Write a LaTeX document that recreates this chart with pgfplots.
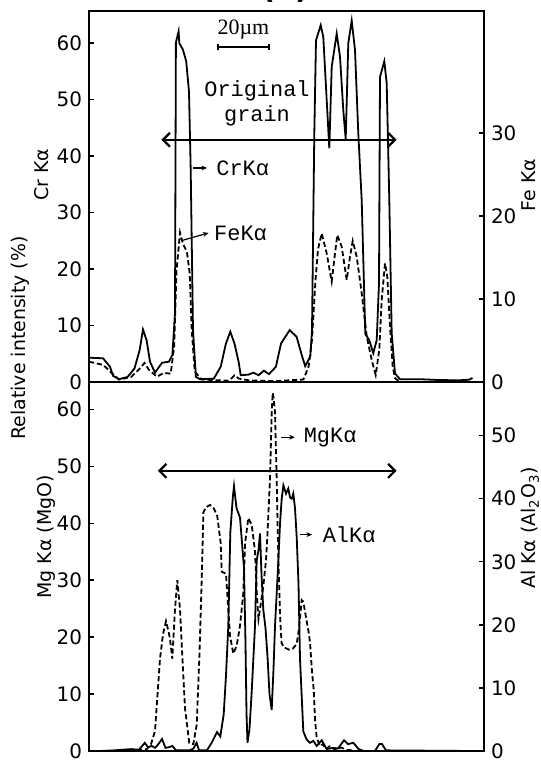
\documentclass[border=0pt]{standalone}
\usepackage{fontspec}
\setmainfont{DejaVu Sans}
\newfontfamily\annfont{Liberation Mono}
\newfontfamily\serfont{Liberation Serif}
\usepackage{pgfplots}
\usepackage{pgfplotstable}
\pgfplotsset{compat=1.18}
\usetikzlibrary{arrows.meta}

% position along the scan (arbitrary units, 53 units = 20 um)
\pgfplotstableread{
x y
0 4.3
14 4.2
21 2.7
24 1.1
30 0.5
38.6 0.9
45.5 2.4
50.7 5.7
54 9.3
57.6 7.4
61 3.6
66 1.65
73 3.4
80 3.6
83.4 4.8
86 12.2
86.9 60.1
89.6 62.1
90.3 60.0
93.8 58.9
97.2 56.8
100 51.4
101.7 37.6
104 9.2
106.9 0.9
111 0.5
124.8 0.6
131.7 2.7
136.9 6.8
141.3 8.9
145.5 6.8
149.6 3.6
151.7 1.2
159.3 1.3
164.4 1.65
169.6 1.2
174.8 2.0
180 1.4
186.9 2.7
192 6.8
200.7 9.2
207.6 8.0
212.7 4.8
216.2 2.8
221.3 4.5
223 9.2
225.3 44
227 60.5
231.7 63.2
234.3 61.1
237.7 49.9
240.3 41.4
242.7 55.8
247.7 61.7
251 57.6
254.3 48.1
256.7 43
259.3 60
262.7 64
266 58.8
269.3 44
272.7 32.2
276.3 8.5
280.3 7.4
284.3 5.1
287.7 7.4
290 17.5
291 54
295.3 56.8
297.7 52.9
300.3 32.2
302.7 8.6
306 1.5
311 0.5
330 0.5
350 0.35
370 0.3
380 0.4
383.4 0.7
}\crdata

\pgfplotstableread{
x y
0 2.45
14.4 2.05
21.3 1.24
30 0.3
42 0.6
50.7 1.6
55.5 2.3
60 1.45
67.9 0.64
74.8 1.1
81.7 1.0
85.1 4.25
87.6 13.5
91 18.0
93.8 16.7
97.9 15.7
100.7 13.1
102.7 6.3
105.8 1.24
112.7 0.3
140 0.15
145.5 0.8
150 0.4
160 0.2
185 0.1
214.4 0.3
219.6 1.85
223 5.1
226.5 12.3
229 16.0
232.7 17.9
237.7 15.5
242.7 12.1
246 15.5
248.3 17.7
252.7 16.3
257.7 12.3
261 15.1
263.7 17.0
267.7 15.1
272.7 10.7
277.7 5.5
282.7 2.65
286.7 0.84
290.3 3.9
292.7 9.9
296 14.3
298.3 12.7
301 6.7
303.7 1.85
306 0.45
310 0.1
}\fedata

\pgfplotstableread{
x y
40 0
50 0.2
57.7 0.3
62 1.2
66 3.5
71 16.2
74 20.5
77 22.8
79.5 21
81 19.7
83.3 16.2
86 24.9
88.3 30
91 24.9
93.5 16
96 7.5
100.3 1.4
104.3 1.2
107.7 4.6
110.3 16.2
112.7 30
114.4 41.9
117 42.8
121 43.2
124.8 42.6
128.2 41.3
131.7 36.5
132.7 31.5
137 31.1
141 20.2
144.3 17.1
147.7 18.5
151 22
154.3 27.7
156 36.3
159.3 40.9
162.7 39.7
166 35.1
168 27
169.5 23.2
171 24.9
174.3 28.9
177 33.5
178.3 37.5
181 47.8
182.7 59.4
183.7 62.9
184.7 62
186 59.4
187.7 47.8
188.7 38.6
190 30
191 24
192.5 19
195 18.2
200 17.8
204 18
207.7 18.8
210 21.5
212.7 26.5
214.3 26.2
216 24.5
219.5 21
221 19.1
223 14
224.8 10.6
226 5.5
227.7 2.3
231 0.9
234 1.2
237 0.3
241 0.9
246 0.2
252 0.6
258 0.2
265 0.1
}\mgdata

\pgfplotstableread{
x y
10 0
25 0.1
42 0.3
50 0.2
55.8 1.3
59 0.6
62.7 0.8
66 0.5
69 1.0
73 1.9
76.5 0.5
80 0.6
83.4 0.8
87 0.1
100.7 0.1
104.5 0.4
107.6 1.3
110 0.1
117.9 0.1
122.7 1.3
128 3.0
131.3 2.3
134.7 5.8
137 12
139.3 19.8
141.3 34.6
143.8 40.2
145 42
147.5 38.5
151 37
153 33
155 29
156.5 17
157.5 6
158.5 1.3
160.5 3.5
162.7 9.4
166 19.8
167.7 30.2
169.6 32
171 34.5
172.5 28
174.3 22.4
176.5 19.5
178.5 15
180.5 9
182.7 6.5
184.5 13
186 19.8
189 29
191 36
192.7 40
194.4 42.1
197 40.8
199.3 41.6
201 40.2
202.7 40
204.3 40.8
206 38.5
207.7 33.9
209.5 26.5
211 14.6
214.3 3.1
217.7 1.8
221 1.3
224.3 1.6
227.7 0.8
232.7 1.7
237.7 0.3
244 0.5
249 0.4
255 1.7
259 1.1
264.4 1.3
269.6 0.3
274.8 0
286 0
290.3 1.1
293 1.1
297 0.1
384 0
}\aldata

\tikzset{
  solidline/.style={black, line width=0.9bp},
  dashline/.style={black, line width=0.9bp, dash pattern=on 2.6bp off 1.4bp},
  grain/.style={line width=1.1bp, {Straight Barb[length=3.5bp,width=7bp]}-{Straight Barb[length=3.5bp,width=7bp]}},
  pointer/.style={line width=0.6bp, -{Stealth[length=2.8bp,width=2.4bp]}},
}
\pgfplotsset{
  panel/.style={
    scale only axis,
    width=197.5bp,
    xmin=0, xmax=395,
    xtick=\empty,
    ymin=0,
    axis line style={line width=0.8bp},
    major tick length=2.5bp,
    tick style={line width=0.7bp, black},
    tick align=inside,
    /pgf/number format/assume math mode=true,
    ticklabel style={font=\fontsize{10}{12}\selectfont},
    anchor=south west,
  },
}

\begin{document}
\begin{tikzpicture}
\useasboundingbox (0,0) rectangle (270.5bp,381bp);

% ---- top panel: Cr (left) ----
\begin{axis}[panel, at={(44.5bp,190bp)}, height=185.5bp,
    ymax=65.7, ytick={0,10,...,60}, ytick pos=left]
  \addplot[solidline] table {\crdata};
  \draw[line width=0.8bp, {Bar[width=3bp]}-{Bar[width=3bp]}] (128,59.3) -- (181,59.3);
  \node[font=\serfont\fontsize{11}{12}\selectfont] at (154.5,62.4) {20µm};
  \node[font=\annfont\fontsize{11}{12.5}\selectfont, align=center] at (168,49.4) {Original\\grain};
  \draw[grain] (72.4,42.9) -- (307.6,42.9);
  \draw[pointer] (104,37.9) -- (118,37.9);
  \node[anchor=west, font=\annfont\fontsize{11}{12}\selectfont, inner sep=0pt] at (127,37.9) {CrKα};
  \draw[pointer] (93.8,25.1) -- (119.6,26.4);
  \node[anchor=west, font=\annfont\fontsize{11}{12}\selectfont, inner sep=0pt] at (124.8,26.4) {FeKα};
\end{axis}
% ---- top panel: Fe (right) ----
\begin{axis}[panel, at={(44.5bp,190bp)}, height=185.5bp,
    ymax=44.7, ytick={0,10,20,30}, hide x axis, axis y line*=right]
  \addplot[dashline] table {\fedata};
\end{axis}

% ---- bottom panel: Mg (left) ----
\begin{axis}[panel, at={(44.5bp,5.5bp)}, height=184.5bp,
    ymax=64.8, ytick={0,10,...,60}, ytick pos=left]
  \addplot[dashline] table {\mgdata};
  \draw[grain] (68.9,49.2) -- (307.6,49.2);
  \draw[pointer] (192,55.1) -- (205.8,55.1);
  \node[anchor=west, font=\annfont\fontsize{11}{12}\selectfont, inner sep=0pt] at (214.4,55.1) {MgKα};
  \draw[pointer] (211,38) -- (223,38);
  \node[anchor=west, font=\annfont\fontsize{11}{12}\selectfont, inner sep=0pt] at (233.4,38) {AlKα};
\end{axis}
% ---- bottom panel: Al (right) ----
\begin{axis}[panel, at={(44.5bp,5.5bp)}, height=184.5bp,
    ymax=58.5, ytick={0,10,...,50}, hide x axis, axis y line*=right]
  \addplot[solidline] table {\aldata};
\end{axis}

% axis titles
\node[rotate=90, font=\fontsize{9.5}{12}\selectfont] at (21bp,293.5bp) {Cr Kα};
\node[rotate=90, font=\fontsize{9.5}{12}\selectfont] at (10bp,212bp) {Relative intensity (\%)};
\node[rotate=90, font=\fontsize{9.5}{12}\selectfont] at (23bp,112.5bp) {Mg Kα (MgO)};
\node[rotate=90, font=\fontsize{9.5}{12}\selectfont] at (264.5bp,288.5bp) {Fe Kα};
\node[rotate=90, font=\fontsize{9.5}{12}\selectfont] at (265bp,117bp) {Al Kα (Al\textsubscript{2}O\textsubscript{3})};
\node[anchor=base, font=\bfseries\fontsize{15}{16}\selectfont] at (142.5bp,381.6bp) {(a)};
\end{tikzpicture}
\end{document}
